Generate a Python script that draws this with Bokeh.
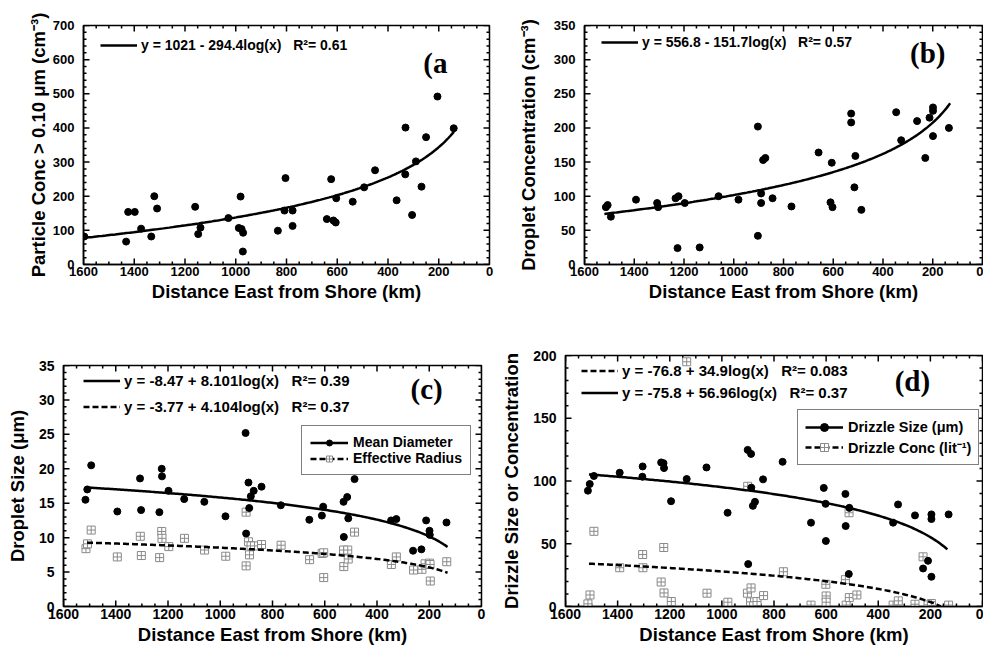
import numpy as np
from bokeh.plotting import figure
from bokeh.models import (Range1d, SingleIntervalTicker, LinearAxis, Legend, LegendItem, Label)
from bokeh.core.properties import value
from bokeh.layouts import row, column
from bokeh.embed import file_html
from bokeh.resources import INLINE

FONT = "Liberation Sans"
SERIF = "Liberation Serif"
NB = "\u00a0"

# ---------------- data ----------------
# (a) particle concentration > 0.10 um
xa = [1597, 1432, 1424, 1398, 1373, 1333, 1321, 1310, 1160, 1148, 1139, 1029, 988, 981, 977, 971, 972,
      834, 808, 804, 776, 776, 641, 624, 615, 606, 604, 539, 494, 451, 366, 332, 331, 305, 290, 268,
      250, 205, 141]
ya = [82, 67, 154, 154, 105, 82, 200, 164, 169, 89, 108, 136, 107, 199, 104, 93, 38,
      99, 158, 253, 158, 113, 133, 250, 129, 123, 194, 184, 226, 276, 188, 264, 401, 145, 302, 228,
      373, 492, 399]

# (b) droplet concentration
xb = [1514, 1507, 1494, 1393, 1308, 1304, 1234, 1222, 1226, 1197, 1137, 1061, 981, 903, 903, 890, 890,
      882, 873, 844, 768, 659, 611, 606, 603, 528, 528, 515, 511, 487, 347, 327, 263, 230, 213, 199,
      199, 199, 135]
yb = [84, 87, 70, 95, 90, 84, 97, 100, 24, 90, 25, 100, 95, 202, 42, 104, 90,
      153, 156, 97, 85, 164, 91, 149, 84, 221, 208, 113, 159, 80, 223, 182, 210, 156, 215, 230,
      225, 188, 200]

# (c) droplet size
xc_md = [1516, 1509, 1494, 1394, 1307, 1303, 1233, 1224, 1223, 1198, 1138, 1061, 980, 903, 901, 892,
         889, 883, 872, 842, 768, 659, 611, 606, 528, 527, 514, 510, 486, 346, 326, 262, 230, 212,
         199, 198, 134]
yc_md = [15.5, 17.0, 20.5, 13.8, 18.6, 14.0, 13.7, 20.0, 18.9, 16.8, 15.6, 15.2, 13.1, 25.2, 10.6, 18.0,
         14.3, 16.0, 16.8, 17.4, 14.7, 12.6, 13.2, 14.5, 15.2, 10.1, 15.9, 12.8, 18.5, 12.5, 12.7, 8.1,
         8.3, 12.5, 11.0, 10.4, 12.2]
xc_er = [1514, 1508, 1494, 1394, 1306, 1302, 1232, 1224, 1223, 1197, 1137, 1060, 979, 901, 901, 892,
         888, 882, 869, 842, 767, 658, 610, 604, 604, 528, 527, 512, 510, 486, 345, 326, 260, 228,
         216, 199, 197, 196, 133]
yc_er = [8.4, 9.1, 11.1, 7.2, 10.2, 7.4, 7.1, 10.9, 9.9, 8.7, 9.9, 8.2, 7.3, 13.7, 5.9, 9.4,
         7.5, 8.8, 8.8, 9.0, 8.9, 6.8, 7.7, 7.8, 4.2, 8.2, 5.8, 8.2, 6.9, 10.8, 6.1, 7.2, 5.3, 5.4,
         6.2, 6.3, 6.1, 3.7, 6.5]

# (d) drizzle size / concentration
xd_sz = [1514, 1507, 1491, 1392, 1304, 1305, 1233, 1224, 1222, 1195, 1135, 1059, 978, 901, 888, 899,
         887, 881, 873, 842, 767, 658, 609, 602, 601, 526, 525, 511, 513, 343, 324, 259, 228, 209,
         196, 196, 196, 130]
yd_sz = [92.3, 97.6, 104, 106.6, 111.6, 103.4, 114.8, 114.2, 110.3, 83.9, 101.6, 110.8, 74.7, 124.8,
         121.6, 33.8, 94.7, 80.2, 83.4, 101.3, 115.3, 66.8, 94.5, 81.8, 52.2, 89.7, 64.1, 78.6, 25.9,
         66.8, 81.3, 72.6, 30.3, 36.4, 73.4, 69.7, 23.7, 73.4]
xd_cn = [1514, 1506, 1491, 1392, 1304, 1303, 1233, 1223, 1222, 1194, 1135, 1057, 977, 901, 902, 888,
         890, 878, 865, 840, 764, 658, 601, 600, 600, 526, 523, 511, 512, 482, 343, 323, 259, 228,
         209, 196, 196, 130]
yd_cn = [2.1, 9.2, 59.9, 30.9, 41.4, 30.9, 19.5, 47.0, 10.8, 4.0, 195, 10.6, 3.4, 95.8, 10.6, 14.8,
         3.7, 0.5, 4.0, 8.7, 27.7, 1.1, 17.7, 8.4, 3.4, 21.4, 1.1, 7.1, 74.7, 9.2, 1.1, 4.5, 1.8,
         39.6, 1.3, 2.4, 0.8, 1.1]

# log fits shown on the chart: y = a + b*log10(x), drawn over the span [x_from, x_to]
fit_a = (1021.0, -294.4, 1600, 140)
fit_b = (556.8, -151.7, 1520, 130)
fit_c_md = (-8.47, 8.101, 1510, 130)
fit_c_er = (-3.77, 4.104, 1510, 130)
fit_d_sz = (-75.8, 56.96, 1510, 135)
fit_d_cn = (-76.8, 34.9, 1510, 160)

eq_a = "y = 1021 - 294.4log(x)" + NB * 3 + "R²= 0.61"
eq_b = "y = 556.8 - 151.7log(x)" + NB * 3 + "R²= 0.57"
eq_c_md = "y = -8.47 + 8.101log(x)" + NB * 3 + "R²= 0.39"
eq_c_er = "y = -3.77 + 4.104log(x)" + NB * 3 + "R²= 0.37"
eq_d_cn = "y = -76.8 + 34.9log(x)" + NB * 3 + "R²= 0.083"
eq_d_sz = "y = -75.8 + 56.96log(x)" + NB * 3 + "R²= 0.37"

XLABEL = "Distance East from Shore (km)"
X_MAX = 1600
X_MAJOR = 200          # km between labelled ticks
X_MINOR = 50           # km between minor ticks
Y_MINOR_DIV = 5        # minor intervals per labelled y interval


def fit_curve(fit):
    a, b, x0, x1 = fit
    x = np.linspace(x0, x1, 200)
    return x, a + b * np.log10(x)


def add_inward_ticks(p, ymax, ystep):
    """Inward major/minor ticks on all four sides (drawn as dash markers clipped by the frame)."""
    x_major = list(range(0, X_MAX + 1, X_MAJOR))
    x_minor = [v for v in range(0, X_MAX + 1, X_MINOR) if v % X_MAJOR]
    ymin_step = ystep / Y_MINOR_DIV
    n_minor = int(round(ymax / ymin_step))
    y_all = [i * ymin_step for i in range(n_minor + 1)]
    y_major = [v for i, v in enumerate(y_all) if i % Y_MINOR_DIV == 0]
    y_minor = [v for i, v in enumerate(y_all) if i % Y_MINOR_DIV]
    st = dict(marker="dash", line_color="black", line_width=1.5)
    for xs, size in [(x_major, 12), (x_minor, 6)]:
        p.scatter(xs, [0] * len(xs), angle=np.pi / 2, size=size, **st)
        p.scatter(xs, [ymax] * len(xs), angle=np.pi / 2, size=size, **st)
    for ys, size in [(y_major, 12), (y_minor, 6)]:
        p.scatter([X_MAX] * len(ys), ys, size=size, **st)
        p.scatter([0] * len(ys), ys, size=size, **st)


def make_panel(width, height, mbl, mbr, mbt, mbb, ymax, ystep, ylabel, tick_fs, ylab_standoff):
    p = figure(width=width, height=height, x_range=Range1d(X_MAX, 0), y_range=Range1d(0, ymax),
               output_backend="svg", toolbar_location=None, tools="",
               min_border_left=mbl, min_border_right=mbr, min_border_top=mbt, min_border_bottom=mbb,
               x_axis_type=None, y_axis_type=None)
    p.outline_line_color = "black"
    p.outline_line_width = 1.5
    p.background_fill_color = "white"
    p.border_fill_color = "white"
    xt = SingleIntervalTicker(interval=X_MAJOR, num_minor_ticks=4)
    yt = SingleIntervalTicker(interval=ystep, num_minor_ticks=5)
    for loc, ticker, lab in [("below", xt, XLABEL), ("left", yt, ylabel)]:
        ax = LinearAxis(ticker=ticker)
        ax.axis_line_color = "black"
        ax.axis_line_width = 1.5
        ax.major_tick_in = 0
        ax.major_tick_out = 0
        ax.minor_tick_in = 0
        ax.minor_tick_out = 0
        ax.major_tick_line_color = None
        ax.minor_tick_line_color = None
        ax.axis_label = lab
        ax.axis_label_text_font = FONT
        ax.axis_label_text_font_style = "bold"
        ax.axis_label_text_font_size = "18.5px"
        ax.axis_label_text_color = "black"
        ax.major_label_text_font = FONT
        ax.major_label_text_font_style = "bold"
        ax.major_label_text_font_size = tick_fs
        ax.major_label_text_color = "black"
        if loc == "below":
            ax.major_label_standoff = 2
            ax.axis_label_standoff = 2
        else:
            ax.major_label_standoff = 9
            ax.axis_label_standoff = ylab_standoff
        p.add_layout(ax, loc)
    add_inward_ticks(p, ymax, ystep)
    return p


def eq_legend(items, vx, vy, fs, row_h, spacing=0):
    return Legend(items=[LegendItem(label=value(t), renderers=r) for t, r in items],
                  location=(vx, vy), orientation="vertical",
                  border_line_alpha=0, background_fill_alpha=0, padding=0, margin=0,
                  spacing=spacing, glyph_width=37, glyph_height=row_h, label_height=row_h,
                  label_standoff=4, label_text_font=FONT, label_text_font_style="bold",
                  label_text_font_size=fs, label_text_color="black")


def box_legend(items, vx, vy, row_h, pad, fs):
    return Legend(items=[LegendItem(label=value(t), renderers=r) for t, r in items],
                  location=(vx, vy), orientation="vertical",
                  border_line_color="black", border_line_width=1.5, background_fill_color="white",
                  background_fill_alpha=1, padding=pad, margin=0, spacing=0,
                  glyph_width=38, glyph_height=row_h, label_height=row_h, label_standoff=5,
                  label_text_font=FONT, label_text_font_style="bold", label_text_font_size=fs,
                  label_text_color="black")


def panel_tag(p, x, y, text):
    p.add_layout(Label(x=x, y=y, text=text, text_font=SERIF, text_font_style="bold",
                       text_font_size="29px", text_align="center", text_baseline="middle",
                       text_color="black"))


DOT = dict(marker="circle", size=7, fill_color="black", line_color="black")
SQ = dict(marker="square_cross", size=8, fill_color="white", line_color="#8a8a8a", line_width=1)

# ---------------- panel (a) ----------------
pa = make_panel(495, 318, 83, 6, 25, 52, 700, 100, "Particle Conc > 0.10 μm (cm⁻³)", "13px", 1)
fx, fy = fit_curve(fit_a)
la = pa.line(fx, fy, line_color="black", line_width=2.5)
pa.scatter(xa, ya, **DOT)
pa.add_layout(eq_legend([(eq_a, [la])], 17, 209, "14px", 20))
panel_tag(pa, 213, 590, "(a")

# ---------------- panel (b) ----------------
pb = make_panel(488, 318, 89, 1, 25, 54, 350, 50, "Droplet Concentration (cm⁻³)", "13px", 12)
fx, fy = fit_curve(fit_b)
lb = pb.line(fx, fy, line_color="black", line_width=2.5)
pb.scatter(xb, yb, **DOT)
pb.add_layout(eq_legend([(eq_b, [lb])], 17, 212, "14px", 20))
panel_tag(pb, 220, 309, "(b)")

# ---------------- panel (c) ----------------
pc = make_panel(495, 329, 63, 14, 47, 30, 35, 5, "Droplet Size (μm)", "14px", 8)
sc_er = pc.scatter(xc_er, yc_er, **SQ)
fx, fy = fit_curve(fit_c_md)
lc_md = pc.line(fx, fy, line_color="black", line_width=2.5)
fx, fy = fit_curve(fit_c_er)
lc_er = pc.line(fx, fy, line_color="black", line_width=2.5, line_dash="6 3")
sc_md = pc.scatter(xc_md, yc_md, **DOT)
pc.add_layout(eq_legend([(eq_c_md, [lc_md]), (eq_c_er, [lc_er])], 20, 189, "15px", 21, spacing=5))
pc.add_layout(box_legend([("Mean Diameter", [lc_md, sc_md]),
                          ("Effective Radius", [lc_er, sc_er])], 238, 131, 15, 8, "14px"))
panel_tag(pc, 210, 31.6, "(c)")

# ---------------- panel (d) ----------------
pd_ = make_panel(488, 329, 70, 1, 37, 30, 200, 50, "Drizzle Size or Concentration", "14px", 8)
sd_cn = pd_.scatter(xd_cn, yd_cn, **SQ)
fx, fy = fit_curve(fit_d_sz)
ld_sz = pd_.line(fx, fy, line_color="black", line_width=2.5)
fx, fy = fit_curve(fit_d_cn)
ld_cn = pd_.line(fx, fy, line_color="black", line_width=2.5, line_dash="6 3")
sd_sz = pd_.scatter(xd_sz, yd_sz, **DOT)
pd_.add_layout(eq_legend([(eq_d_cn, [ld_cn]), (eq_d_sz, [ld_sz])], 16, 203, "15px", 21, spacing=1))
pd_.add_layout(box_legend([("Drizzle Size (μm)", [ld_sz, sd_sz]),
                           ("Drizzle Conc (lit⁻¹)", [ld_cn, sd_cn])], 232, 141, 20, 7, "14.5px"))
panel_tag(pd_, 269, 180, "(d)")

layout = column(row(pa, pb, spacing=0), row(pc, column(pd_), spacing=0), spacing=0)
open("out.html", "w").write(file_html(layout, INLINE))
